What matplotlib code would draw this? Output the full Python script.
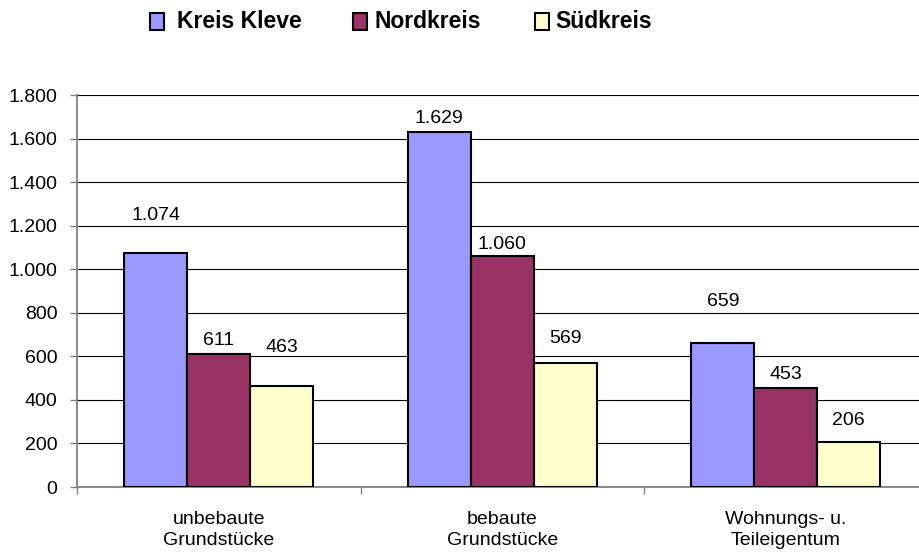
import numpy as np
import matplotlib
matplotlib.use('Agg')
import matplotlib.pyplot as plt
from matplotlib.patches import Rectangle

plt.rcParams['font.family'] = ['Liberation Sans', 'DejaVu Sans']

categories = ['unbebaute\nGrundstücke', 'bebaute\nGrundstücke', 'Wohnungs- u.\nTeileigentum']
series = ['Kreis Kleve', 'Nordkreis', 'Südkreis']
kreis_kleve = [1074, 1629, 659]
nordkreis = [611, 1060, 453]
suedkreis = [463, 569, 206]
values = [kreis_kleve, nordkreis, suedkreis]
colors = ['#9999FF', '#993366', '#FFFFCC']

# distance (px) from bar top to label centre, as placed in the original
label_pad = [[40, 16, 44], [15, 14, 16], [41, 27, 24]]

def fmt(v):
    return f"{int(v):,}".replace(',', '.')

W, H = 919, 556
fig = plt.figure(figsize=(W / 100, H / 100), dpi=100)
ax = fig.add_axes([77 / W, 1 - 487 / H, 850.5 / W, 392 / H])

x = np.arange(len(categories))
w = 63 / 283.5
for i, (name, vals, col) in enumerate(zip(series, values, colors)):
    pos = x + (i - 1) * w
    ax.bar(pos, vals, width=w, color=col, edgecolor='black', linewidth=1.5, zorder=3)
    for xp, v, pad in zip(pos, vals, label_pad[i]):
        ax.annotate(fmt(v), (xp, v), xytext=(0, pad * 0.72), textcoords='offset points',
                    ha='center', va='center_baseline', fontsize=14)

ax.set_xlim(-0.5, 2.5)
ax.set_ylim(0, 1800)
ax.set_yticks(np.arange(0, 1801, 200))
ax.set_yticklabels([fmt(v) for v in np.arange(0, 1801, 200)])
ax.set_axisbelow(True)
ax.yaxis.grid(True, color='black', linewidth=0.8)

ax.set_xticks(x)
ax.set_xticklabels(categories, linespacing=1.35)
ax.set_xticks([-0.5, 0.5, 1.5, 2.5], minor=True)
ax.tick_params(axis='x', which='major', length=0, pad=17, labelsize=14)
ax.tick_params(axis='x', which='minor', length=5, color='#808080', width=1)
ax.tick_params(axis='y', length=5, color='#808080', width=1, pad=9, labelsize=14)

for s in ['top', 'right']:
    ax.spines[s].set_visible(False)
for s in ['left', 'bottom']:
    ax.spines[s].set_color('#808080')
    ax.spines[s].set_linewidth(1.3)

# legend drawn on top
leg_sq = [150, 353, 535]
leg_tx = [177, 374, 555]
for name, col, sx, tx in zip(series, colors, leg_sq, leg_tx):
    fig.patches.append(Rectangle((sx / W, 1 - 30 / H), 14 / W, 17 / H, transform=fig.transFigure,
                                 facecolor=col, edgecolor='black', linewidth=1.5))
    fig.text(tx / W, 1 - 22 / H, name, ha='left', va='center', fontsize=16.5, fontweight='bold')

fig.savefig('out.png', dpi=100)
